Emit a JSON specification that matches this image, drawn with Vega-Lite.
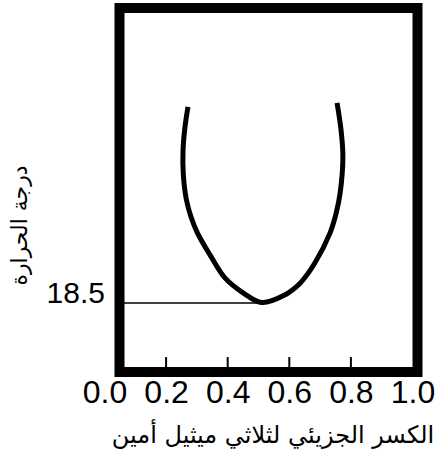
{
  "$schema": "https://vega.github.io/schema/vega-lite/v6.json",
  "width": 298,
  "height": 364,
  "autosize": {"type": "none"},
  "padding": {"left": 119.5, "top": 8, "right": 17.5, "bottom": 81},
  "background": "white",
  "config": {"view": {"stroke": "black", "strokeWidth": 10}},
  "datasets": {
    "curve": [
      {"i": 1, "x": 0.271, "t": 71.0},
      {"i": 2, "x": 0.261, "t": 65.4},
      {"i": 3, "x": 0.255, "t": 59.5},
      {"i": 4, "x": 0.256, "t": 52.8},
      {"i": 5, "x": 0.266, "t": 46.1},
      {"i": 6, "x": 0.281, "t": 41.5},
      {"i": 7, "x": 0.302, "t": 37.2},
      {"i": 8, "x": 0.343, "t": 31.3},
      {"i": 9, "x": 0.391, "t": 25.2},
      {"i": 10, "x": 0.450, "t": 21.2},
      {"i": 11, "x": 0.511, "t": 18.6},
      {"i": 12, "x": 0.580, "t": 20.4},
      {"i": 13, "x": 0.635, "t": 23.8},
      {"i": 14, "x": 0.683, "t": 29.2},
      {"i": 15, "x": 0.732, "t": 37.2},
      {"i": 16, "x": 0.752, "t": 42.5},
      {"i": 17, "x": 0.765, "t": 47.9},
      {"i": 18, "x": 0.774, "t": 57.6},
      {"i": 19, "x": 0.768, "t": 64.8},
      {"i": 20, "x": 0.755, "t": 72.1}
    ],
    "line": [
      {"x": 0.0, "t": 18.5},
      {"x": 0.505, "t": 18.5}
    ],
    "ticks": [
      {"x": 0.2, "t0": 0, "t1": 4},
      {"x": 0.4, "t0": 0, "t1": 4},
      {"x": 0.6, "t0": 0, "t1": 4},
      {"x": 0.8, "t0": 0, "t1": 4}
    ]
  },
  "encoding": {
    "x": {
      "field": "x",
      "type": "quantitative",
      "scale": {"domain": [0, 1], "range": [-15, 293], "nice": false, "zero": false},
      "axis": {
        "values": [0, 0.2, 0.4, 0.6, 0.8, 1.0],
        "format": ".1f",
        "domain": false,
        "grid": false,
        "ticks": false,
        "labelFont": "Liberation Sans",
        "labelFontSize": 32,
        "labelColor": "black",
        "labelPadding": 5,
        "labelFlush": false,
        "labelOverlap": false,
        "labelBound": false,
        "title": "الكسر الجزيئي لثلاثي ميثيل أمين",
        "titleFont": "DejaVu Sans",
        "titleFontSize": 24,
        "titleFontWeight": "normal",
        "titleColor": "black",
        "titleX": 153,
        "titleAlign": "center",
        "titleY": 70,
        "titleBaseline": "alphabetic"
      }
    },
    "y": {
      "field": "t",
      "type": "quantitative",
      "scale": {"domain": [0, 97.5], "nice": false, "zero": false},
      "axis": {
        "values": [18.5],
        "format": ".1f",
        "domain": false,
        "grid": false,
        "ticks": false,
        "labelFont": "Liberation Sans",
        "labelFontSize": 30,
        "labelColor": "black",
        "labelPadding": 15,
        "labelBaseline": "alphabetic",
        "title": "درجة الحرارة",
        "titleFont": "DejaVu Sans",
        "titleFontSize": 22,
        "titleFontWeight": "normal",
        "titleColor": "black",
        "titleAngle": -90,
        "titleX": -100,
        "titleY": 217,
        "titleAlign": "center",
        "titleBaseline": "middle"
      }
    }
  },
  "layer": [
    {
      "data": {"name": "ticks"},
      "mark": {"type": "rule", "color": "black", "strokeWidth": 2},
      "encoding": {
        "y": {"field": "t0", "type": "quantitative"},
        "y2": {"field": "t1"}
      }
    },
    {
      "data": {"name": "line"},
      "mark": {"type": "line", "color": "black", "strokeWidth": 1.6, "clip": true}
    },
    {
      "data": {"name": "curve"},
      "mark": {"type": "line", "color": "black", "strokeWidth": 5, "interpolate": "catmull-rom"},
      "encoding": {"order": {"field": "i", "type": "quantitative"}}
    }
  ]
}
